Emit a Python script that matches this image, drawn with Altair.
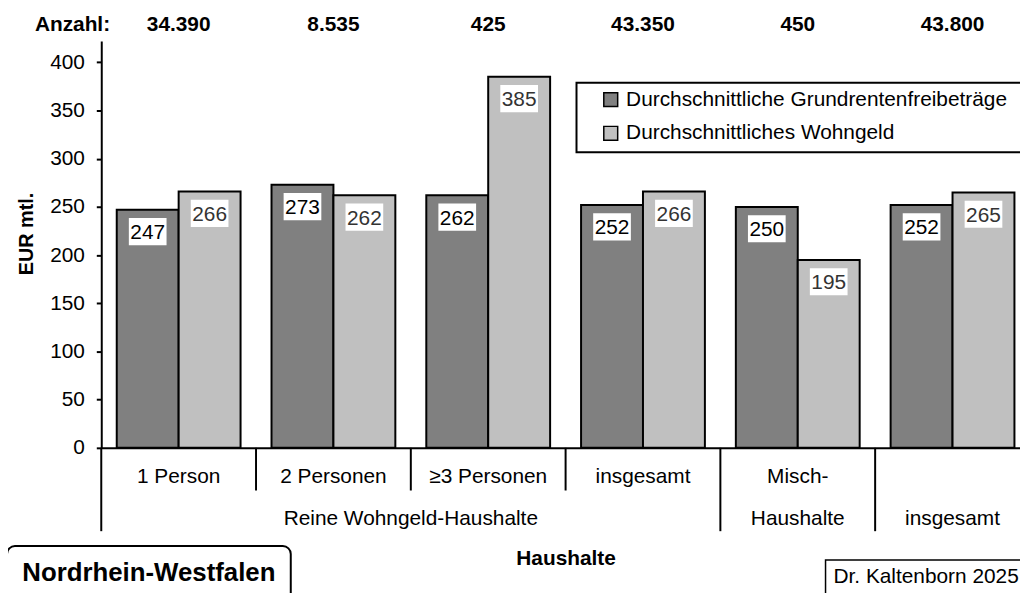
import altair as alt
import pandas as pd

FONT = "Liberation Sans"

# ---- data ----
series_names = ["Durchschnittliche Grundrentenfreibeträge", "Durchschnittliches Wohngeld"]
freibetrag = [247, 273, 262, 252, 250, 252]
wohngeld = [266, 262, 385, 266, 195, 265]
anzahl = ["34.390", "8.535", "425", "43.350", "450", "43.800"]
cat_row1 = ["1 Person", "2 Personen", "≥3 Personen", "insgesamt", "Misch-", ""]
cat_row2 = ["Reine Wohngeld-Haushalte", "Haushalte", "insgesamt"]
cat_row2_start = [0, 4, 5]
cat_row2_end = [4, 5, 6]
short_seps = [1, 2, 3]
long_seps = [0, 4, 5, 6]
y_ticks = [0, 50, 100, 150, 200, 250, 300, 350, 400]
colors = ["#808080", "#c0c0c0"]

# ---- layout ----
GROUP_PX = 156
W = 926
H = 410
YMAX = 422.1

bars_df = pd.DataFrame(
    [{"g": i, "s": k, "series": series_names[k], "value": v}
     for k, vals in enumerate([freibetrag, wohngeld]) for i, v in enumerate(vals)]
)

xscale = alt.Scale(domain=[0, W / GROUP_PX], nice=False, zero=False)
yscale = alt.Scale(domain=[0, YMAX], nice=False)

xaxis = alt.Axis(domain=True, ticks=False, labels=False, grid=False,
                 domainColor="black", domainWidth=2,
                 title="Haushalte", titleFont=FONT, titleFontSize=21,
                 titleFontWeight="bold", titleColor="black",
                 titleX=468, titleY=118, titleAlign="center",
                 titleBaseline="alphabetic", titleAngle=0)
yaxis = alt.Axis(values=y_ticks, grid=False, domainColor="black", domainWidth=2,
                 tickColor="black", tickWidth=2, tickSize=5,
                 labelFont=FONT, labelFontSize=21, labelColor="black",
                 labelPadding=12, labelBaseline="middle",
                 title="EUR mtl.", titleFont=FONT, titleFontSize=20,
                 titleFontWeight="bold", titleColor="black",
                 titleAngle=270, titleX=-69, titleY=194,
                 titleAlign="center", titleBaseline="alphabetic")


def X(field):
    return alt.X(field, scale=xscale, axis=xaxis)


def Y(field):
    return alt.Y(field, scale=yscale, axis=yaxis)


base = alt.Chart(bars_df).transform_calculate(
    x0="datum.g + 0.1 + 0.4*datum.s",
    x1="datum.g + 0.5 + 0.4*datum.s",
    xc="datum.g + 0.3 + 0.4*datum.s",
    zero="0",
)

bars = base.mark_rect(stroke="black", strokeWidth=2).encode(
    x=X("x0:Q"),
    x2="x1:Q",
    y=Y("value:Q"),
    y2="zero:Q",
    color=alt.Color("series:N",
                    scale=alt.Scale(domain=series_names, range=colors),
                    legend=alt.Legend(orient="none", legendX=503, legendY=48.5,
                                      direction="vertical", title=None,
                                      labelFont=FONT, labelFontSize=21, labelColor="black",
                                      labelLimit=600, labelOffset=5,
                                      symbolType="square", symbolSize=196,
                                      symbolStrokeColor="black", symbolStrokeWidth=1.5,
                                      rowPadding=12, padding=0)),
)

label_boxes = base.mark_point(
    shape="M-1,-0.72L1,-0.72L1,0.72L-1,0.72Z", filled=True, fill="white",
    opacity=1, strokeWidth=0, size=1444, yOffset=22,
).encode(x=X("xc:Q"), y=Y("value:Q"))

label_text = base.mark_text(
    font=FONT, fontSize=21, baseline="alphabetic", align="center", yOffset=29.5,
).encode(
    x=X("xc:Q"),
    y=Y("value:Q"),
    text="value:Q",
    color=alt.condition("datum.s == 0", alt.value("black"), alt.value("#333333")),
)

anz_df = pd.DataFrame({"g": list(range(len(anzahl))), "n": anzahl})
anz_text = alt.Chart(anz_df).transform_calculate(xc="datum.g + 0.5").mark_text(
    font=FONT, fontSize=21, fontWeight="bold", baseline="alphabetic", align="center", color="black",
).encode(x=X("xc:Q"), y=alt.value(-10), text="n:N")

anz_label = alt.Chart(alt.Data(values=[{"t": "Anzahl:"}])).mark_text(
    font=FONT, fontSize=21, fontWeight="bold", baseline="alphabetic", align="center", color="black",
).encode(x=alt.value(-29), y=alt.value(-10), text="t:N")

row1_df = pd.DataFrame({"g": list(range(len(cat_row1))), "label": cat_row1})
row1 = alt.Chart(row1_df).transform_calculate(xc="datum.g + 0.5").mark_text(
    font=FONT, fontSize=21, baseline="alphabetic", align="center", color="black",
).encode(x=X("xc:Q"), y=alt.value(H + 35), text="label:N")

row2_df = pd.DataFrame({"a": cat_row2_start, "b": cat_row2_end, "label": cat_row2})
row2 = alt.Chart(row2_df).transform_calculate(xc="(datum.a + datum.b) / 2").mark_text(
    font=FONT, fontSize=21, baseline="alphabetic", align="center", color="black",
).encode(x=X("xc:Q"), y=alt.value(H + 78), text="label:N")

sep_short = alt.Chart(pd.DataFrame({"p": short_seps})).mark_rule(color="black", strokeWidth=2).encode(
    x=X("p:Q"), y=alt.value(H), y2=alt.value(H + 43))
sep_long = alt.Chart(pd.DataFrame({"p": long_seps})).mark_rule(color="black", strokeWidth=2).encode(
    x=X("p:Q"), y=alt.value(H), y2=alt.value(H + 84))

one = alt.Data(values=[{"t": ""}])
legend_box = alt.Chart(one).mark_rect(fill="white", stroke="black", strokeWidth=2).encode(
    x=alt.value(479), x2=alt.value(980), y=alt.value(42), y2=alt.value(112))

nrw_box = alt.Chart(one).mark_rect(fill="white", stroke="black", strokeWidth=2, cornerRadius=8).encode(
    x=alt.value(-95), x2=alt.value(191), y=alt.value(509), y2=alt.value(580))
nrw_text = alt.Chart(alt.Data(values=[{"t": "Nordrhein-Westfalen"}])).mark_text(
    font=FONT, fontSize=26, fontWeight="bold", baseline="alphabetic", align="center", color="black",
).encode(x=alt.value(48), y=alt.value(544), text="t:N")

src_box = alt.Chart(one).mark_rect(fill="white", stroke="black", strokeWidth=1.5).encode(
    x=alt.value(730), x2=alt.value(980), y=alt.value(523), y2=alt.value(580))
src_text = alt.Chart(alt.Data(values=[{"t": "Dr. Kaltenborn 2025"}])).mark_text(
    font=FONT, fontSize=21, baseline="alphabetic", align="left", color="black",
).encode(x=alt.value(738), y=alt.value(546), text="t:N")

chart = alt.layer(
    bars, legend_box, label_boxes, label_text, anz_text, anz_label,
    row1, row2, sep_short, sep_long, nrw_box, nrw_text, src_box, src_text,
).properties(
    width=W, height=H,
    autosize=alt.AutoSizeParams(type="none"),
    padding={"left": 94, "top": 31, "right": 0, "bottom": 144},
).configure_view(stroke=None)

chart.save("out.html", embed_options={"renderer": "svg", "actions": False})
